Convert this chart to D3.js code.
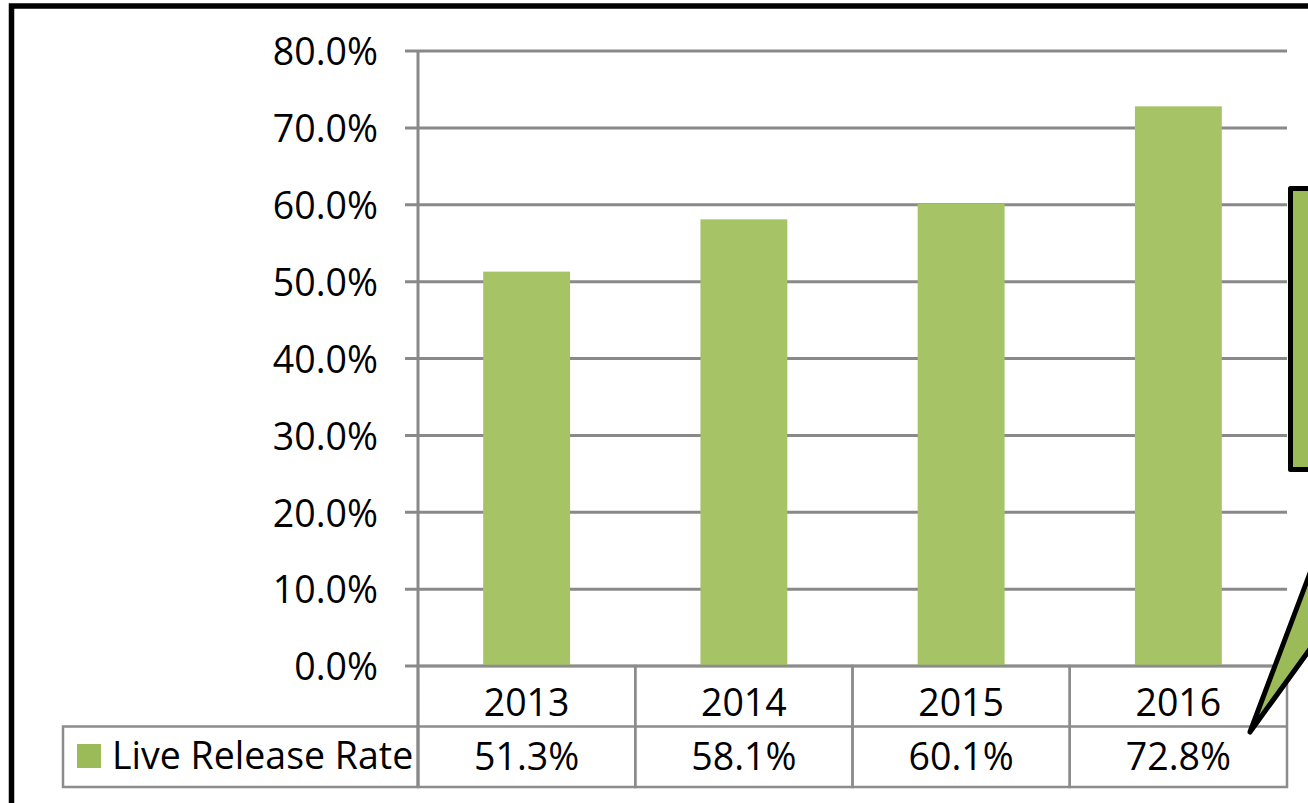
<!DOCTYPE html>
<html>
<head>
<meta charset="utf-8">
<script src="https://cdn.jsdelivr.net/npm/d3@7"></script>
<style>
  html, body { margin: 0; padding: 0; background: #fff; overflow: hidden; }
  text { font-family: "Open Sans", "Noto Sans", sans-serif; fill: #000; }
</style>
</head>
<body>
<div id="chart"></div>
<script>
// chart data
const years = ["2013", "2014", "2015", "2016"];
const liveReleaseRate = [0.513, 0.581, 0.601, 0.728];
const yTicks = [0, 0.1, 0.2, 0.3, 0.4, 0.5, 0.6, 0.7, 0.8];
const seriesName = "Live Release Rate";

const width = 1308;
const height = 803;
const fontSize = 37.5;

const plot = {left: 418, right: 1287, top: 51, bottom: 666};
const rowH = 60.5;

const svg = d3.select("#chart")
    .append("svg")
    .attr("width", width)
    .attr("height", height);

const x = d3.scaleBand()
    .domain(years)
    .range([plot.left, plot.right])
    .padding(0);

const y = d3.scaleLinear()
    .domain([0, 0.8])
    .range([plot.bottom, plot.top]);

const pct = d3.format(".1%");

// gridlines
svg.append("g")
    .selectAll("line")
    .data(yTicks)
    .enter().append("line")
    .attr("x1", plot.left - 13)
    .attr("x2", plot.right)
    .attr("y1", d => y(d))
    .attr("y2", d => y(d))
    .attr("stroke", "#898989")
    .attr("stroke-width", 3);

// tick labels
svg.append("g")
    .selectAll("text")
    .data(yTicks)
    .enter().append("text")
    .attr("x", 378)
    .attr("y", d => y(d))
    .attr("dy", "0.38em")
    .attr("text-anchor", "end")
    .style("font-size", fontSize + "px")
    .text(d => pct(d));

// bars
const barW = x.bandwidth() * 0.4;
svg.append("g")
    .selectAll("rect")
    .data(years)
    .enter().append("rect")
    .attr("x", d => x(d) + (x.bandwidth() - barW) / 2)
    .attr("y", (d, i) => y(liveReleaseRate[i]))
    .attr("width", barW)
    .attr("height", (d, i) => y(0) - y(liveReleaseRate[i]))
    .attr("fill", "#a6c466");

// data table
const table = svg.append("g")
    .attr("stroke", "#8c8c8c")
    .attr("stroke-width", 2.5)
    .attr("fill", "none");

// cells for header + values
years.forEach((yr, i) => {
    table.append("rect")
        .attr("x", x(yr))
        .attr("y", plot.bottom)
        .attr("width", x.bandwidth())
        .attr("height", rowH * 2);
    table.append("line")
        .attr("x1", x(yr)).attr("x2", x(yr) + x.bandwidth())
        .attr("y1", plot.bottom + rowH).attr("y2", plot.bottom + rowH);
});
table.append("rect")
    .attr("x", 63)
    .attr("y", plot.bottom + rowH)
    .attr("width", plot.left - 63)
    .attr("height", rowH);

// y axis line
svg.append("line")
    .attr("x1", plot.left).attr("x2", plot.left)
    .attr("y1", plot.top).attr("y2", plot.bottom + rowH * 2)
    .attr("stroke", "#898989")
    .attr("stroke-width", 3);

svg.append("g")
    .selectAll("text")
    .data(years)
    .enter().append("text")
    .attr("x", d => x(d) + x.bandwidth() / 2)
    .attr("y", 716)
    .attr("text-anchor", "middle")
    .style("font-size", fontSize + "px")
    .text(d => d);

svg.append("g")
    .selectAll("text")
    .data(liveReleaseRate)
    .enter().append("text")
    .attr("x", (d, i) => x(years[i]) + x.bandwidth() / 2)
    .attr("y", 770)
    .attr("text-anchor", "middle")
    .style("font-size", fontSize + "px")
    .text(d => pct(d));

// legend key
svg.append("rect")
    .attr("x", 77).attr("y", 744)
    .attr("width", 24).attr("height", 24)
    .attr("fill", "#9bbb59");
svg.append("text")
    .attr("x", 112).attr("y", 769)
    .style("font-size", fontSize + "px")
    .text(seriesName);

// callout (cut off at the right edge)
svg.append("path")
    .attr("d", "M1290.5,188.5 L1400,188.5 L1400,469.5 L1440,469.5 L1250,732 L1349,469.5 L1290.5,469.5 Z")
    .attr("fill", "#9bbb59")
    .attr("stroke", "#000")
    .attr("stroke-width", 5)
    .attr("stroke-linejoin", "round");

// outer frame
svg.append("rect")
    .attr("x", 11.5).attr("y", 6)
    .attr("width", 1400).attr("height", 900)
    .attr("fill", "none")
    .attr("stroke", "#000")
    .attr("stroke-width", 5.5);
</script>
</body>
</html>
